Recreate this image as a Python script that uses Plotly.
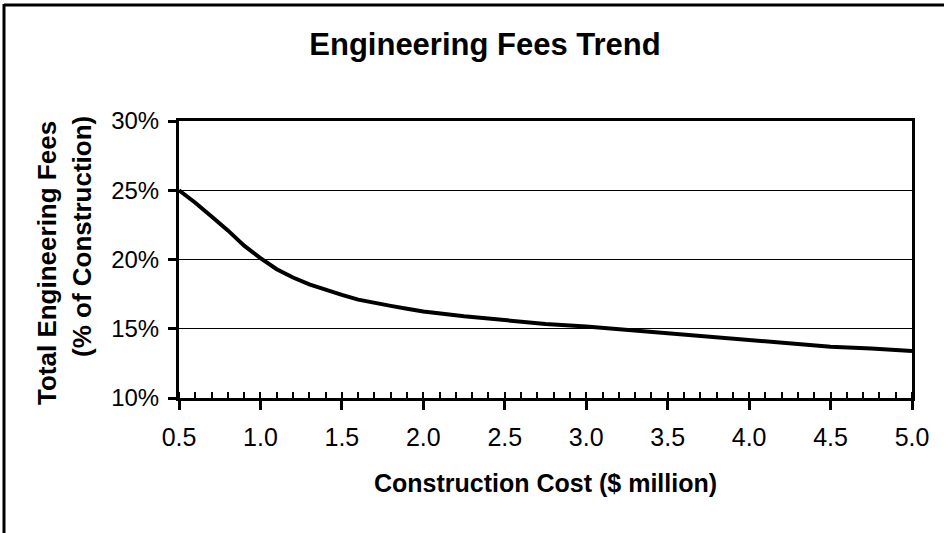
import plotly.graph_objects as go

# Data
construction_cost = [0.5, 0.6, 0.7, 0.8, 0.9, 1.0, 1.1, 1.2, 1.3, 1.4, 1.5, 1.6, 1.7, 1.8, 1.9, 2.0,
                     2.25, 2.5, 2.75, 3.0, 3.25, 3.5, 3.75, 4.0, 4.25, 4.5, 4.75, 5.0]
engineering_fees = [25.0, 24.1, 23.1, 22.1, 21.0, 20.1, 19.3, 18.7, 18.2, 17.8, 17.45, 17.1, 16.85, 16.65, 16.45, 16.25,
                    15.9, 15.6, 15.35, 15.17, 14.92, 14.72, 14.43, 14.2, 13.95, 13.7, 13.58, 13.4]

x_ticks = [0.5, 1.0, 1.5, 2.0, 2.5, 3.0, 3.5, 4.0, 4.5, 5.0]
x_tick_labels = ["0.5", "1.0", "1.5", "2.0", "2.5", "3.0", "3.5", "4.0", "4.5", "5.0"]
y_ticks = [10, 15, 20, 25, 30]
y_tick_labels = ["10%", "15%", "20%", "25%", "30%"]

title_text = "Engineering Fees Trend"
x_title = "Construction Cost ($ million)"
y_title_1 = "Total Engineering Fees"
y_title_2 = "(% of Construction)"

W, H = 948, 533
L, R, T, B = 179, 912, 121, 398
FONT = "Liberation Sans, Arial, Helvetica, sans-serif"


def px(xp):
    return (xp - L) / (R - L)


def py(yp):
    return (B - yp) / (B - T)


fig = go.Figure()
fig.add_trace(go.Scatter(
    x=construction_cost, y=engineering_fees, mode="lines",
    line=dict(color="black", width=4), line_shape="linear",
    showlegend=False, hoverinfo="x+y"
))

fig.update_layout(
    width=W, height=H,
    margin=dict(l=L, r=W - R, t=T, b=H - B, pad=0),
    paper_bgcolor="white", plot_bgcolor="white",
    font=dict(family=FONT, color="black", size=24),
    title=dict(text=title_text, x=485 / W, xref="container", xanchor="center",
               y=1 - 44 / H, yref="container", yanchor="middle",
               font=dict(family=FONT, size=31, weight="bold", color="black")),
    xaxis=dict(
        range=[0.5, 5.0], tickvals=x_ticks, ticktext=x_tick_labels,
        showline=True, linecolor="black", linewidth=3, mirror=True,
        ticks="outside", ticklen=9, tickwidth=3, tickcolor="black",
        minor=dict(dtick=0.1, tick0=0.5, ticks="inside", ticklen=6, tickwidth=2, tickcolor="black", showgrid=False),
        showgrid=False, zeroline=False, ticklabelstandoff=6,
        tickfont=dict(size=25, family=FONT, color="black"),
    ),
    yaxis=dict(
        range=[10, 30], tickvals=y_ticks, ticktext=y_tick_labels,
        showline=True, linecolor="black", linewidth=3, mirror=True,
        ticks="outside", ticklen=8, tickwidth=3, tickcolor="black",
        showgrid=True, gridcolor="black", gridwidth=1, zeroline=False,
        ticklabelstandoff=4,
        tickfont=dict(size=24, family=FONT, color="black"),
    ),
    annotations=[
        dict(text=x_title, xref="paper", yref="paper", x=px(545), y=py(483),
             xanchor="center", yanchor="middle", showarrow=False,
             font=dict(family=FONT, size=25, weight="bold", color="black")),
        dict(text=y_title_1, xref="paper", yref="paper", x=px(47), y=py(263),
             xanchor="center", yanchor="middle", showarrow=False, textangle=-90,
             font=dict(family=FONT, size=26, weight="bold", color="black")),
        dict(text=y_title_2, xref="paper", yref="paper", x=px(82), y=py(237),
             xanchor="center", yanchor="middle", showarrow=False, textangle=-90,
             font=dict(family=FONT, size=26, weight="bold", color="black")),
    ],
    shapes=[
        dict(type="line", xref="paper", yref="paper", x0=px(4), x1=px(944), y0=py(5), y1=py(5),
             line=dict(color="black", width=3), layer="above"),
        dict(type="line", xref="paper", yref="paper", x0=px(4), x1=px(4), y0=py(4), y1=py(540),
             line=dict(color="black", width=3), layer="above"),
    ],
)

fig.write_html("out.html", config={"displayModeBar": False},
               post_script="document.body.style.margin='0';document.body.style.padding='0';")
